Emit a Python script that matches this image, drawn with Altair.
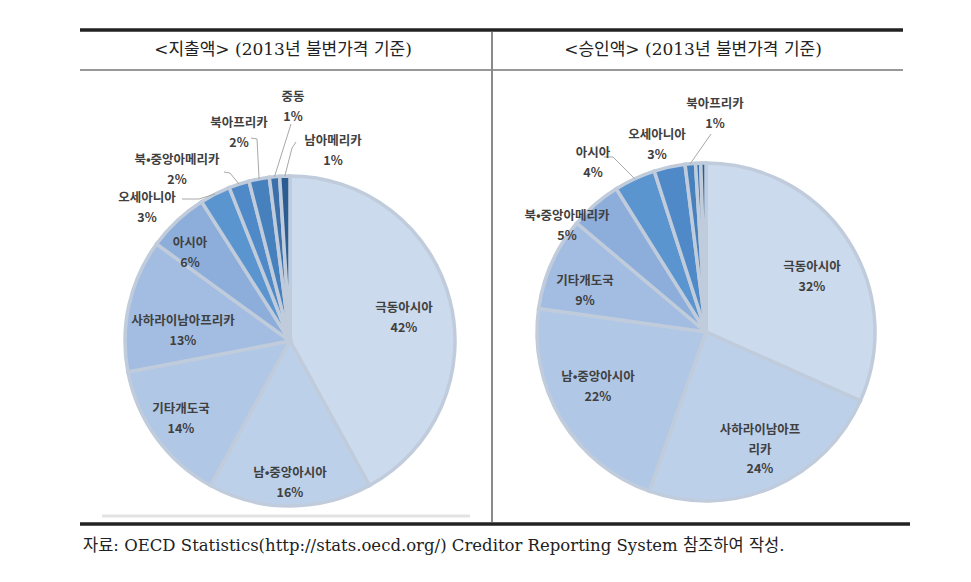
import math
import altair as alt
import pandas as pd

# ---------------- data ----------------
left_regions = ["극동아시아", "남•중앙아시아", "기타개도국", "사하라이남아프리카", "아시아",
                "오세아니아", "북•중앙아메리카", "북아프리카", "중동", "남아메리카"]
left_values = [42, 16, 14, 13, 6, 3, 2, 2, 1, 1]

right_regions = ["극동아시아", "사하라이남아프리카", "남•중앙아시아", "기타개도국", "북•중앙아메리카",
                 "아시아", "오세아니아", "북아프리카", "중동", "남아메리카"]
right_values = [32, 24, 22, 9, 5, 4, 3, 1, 0.5, 0.5]
right_labelled = ["극동아시아", "사하라이남아프리카", "남•중앙아시아", "기타개도국", "북•중앙아메리카",
                  "아시아", "오세아니아", "북아프리카"]

titles = ["<지출액> (2013년 불변가격 기준)", "<승인액> (2013년 불변가격 기준)"]
source = "자료: OECD Statistics(http://stats.oecd.org/) Creditor Reporting System 참조하여 작성."

# ---------------- layout / style ----------------
W, H = 955, 560
palette = ["#cbdaed", "#bdd0ea", "#b0c7e6", "#a3bde2", "#8daedb",
           "#5b95d0", "#4f89c7", "#4680bd", "#3b70aa", "#2c5d92"]

L_CX, L_CY, L_R = 290, 341, 165
R_CX, R_CY, R_R = 706, 332, 169

left_label_pos = {
    "극동아시아": (404, 308), "남•중앙아시아": (290, 473), "기타개도국": (181, 409),
    "사하라이남아프리카": (183, 321), "아시아": (190, 243), "오세아니아": (147, 198),
    "북•중앙아메리카": (177, 160), "북아프리카": (239, 123), "중동": (293, 97),
    "남아메리카": (333, 141),
}
right_label_pos = {
    "극동아시아": (812, 267), "사하라이남아프리카": (760, 430), "남•중앙아시아": (598, 377),
    "기타개도국": (585, 281), "북•중앙아메리카": (567, 216), "아시아": (593, 153),
    "오세아니아": (657, 135), "북아프리카": (715, 104),
}
wrap = {("R", "사하라이남아프리카"): ["사하라이남아프", "리카"]}
LINE_STEP = 19.5

# leader start/elbow points (image px); end is the slice edge at its mid angle
left_leaders = {
    "중동": [(291, 124)], "남아메리카": [(296, 142), (292, 148)],
    "북아프리카": [(251, 138), (257, 139)], "북•중앙아메리카": [(224, 172), (230, 173)],
    "오세아니아": [(182, 199), (199, 199)],
}
right_leaders = {"북아프리카": [(711, 134)], "아시아": [(604, 157), (613, 157)]}

xs = alt.Scale(domain=[8, 8 + W], nice=False, zero=False)
ys = alt.Scale(domain=[8, 8 + H], nice=False, zero=False, reverse=True)


def pie_df(regions, values):
    return pd.DataFrame({"region": regions, "value": values, "idx": list(range(len(regions)))})


def mid_edge(regions, values, name, cx, cy, r):
    total = sum(values)
    i = regions.index(name)
    before = sum(values[:i])
    frac = (before + values[i] / 2) / total
    a = frac * 2 * math.pi
    return (cx + r * math.sin(a), cy - r * math.cos(a))


def pie_layer(df, cx, cy, r):
    return alt.Chart(df).mark_arc(radius=r, stroke="#c0ccdb", strokeWidth=3.5).encode(
        theta=alt.Theta("value:Q", stack=True),
        order=alt.Order("idx:Q"),
        color=alt.Color("idx:O", scale=alt.Scale(domain=list(range(10)), range=palette), legend=None),
        x=alt.value(cx - 8),
        y=alt.value(cy - 8),
    )


# labels
lab_rows = []
for side, regions, values, pos, labelled in [
    ("L", left_regions, left_values, left_label_pos, left_regions),
    ("R", right_regions, right_values, right_label_pos, right_labelled),
]:
    for name in labelled:
        v = values[regions.index(name)]
        lines = wrap.get((side, name), [name]) + [f"{v:g}%"]
        x0, y0 = pos[name]
        for k, t in enumerate(lines):
            lab_rows.append({"x": x0, "y": y0 + k * LINE_STEP, "t": t})
lab_df = pd.DataFrame(lab_rows)

# leaders
lead_rows = []
for side, regions, values, leaders, cx, cy, r in [
    ("L", left_regions, left_values, left_leaders, L_CX, L_CY, L_R),
    ("R", right_regions, right_values, right_leaders, R_CX, R_CY, R_R),
]:
    for name, pts in leaders.items():
        path = list(pts) + [mid_edge(regions, values, name, cx, cy, r)]
        for s, (px, py) in enumerate(path):
            lead_rows.append({"id": f"{side}-{name}", "seq": s, "x": px, "y": py})
lead_df = pd.DataFrame(lead_rows)

enc_xy = dict(x=alt.X("x:Q", scale=xs, axis=None), y=alt.Y("y:Q", scale=ys, axis=None))


def rules(rows, color, width):
    return alt.Chart(pd.DataFrame(rows)).mark_rule(color=color, strokeWidth=width).encode(
        x=alt.X("x:Q", scale=xs, axis=None), x2="x2:Q",
        y=alt.Y("y:Q", scale=ys, axis=None), y2="y2:Q",
    )


frame_thick = rules([{"x": 80, "x2": 903, "y": 30, "y2": 30},
                     {"x": 80, "x2": 910, "y": 524, "y2": 524}], "#222222", 3.5)
frame_thin = rules([{"x": 80, "x2": 903, "y": 70, "y2": 70}], "#333333", 1.2)
divider = rules([{"x": 492, "x2": 492, "y": 32, "y2": 522}], "#8a8a8a", 2)
faint = rules([{"x": 102, "x2": 470, "y": 516, "y2": 516}], "#e3e3e3", 3)

title_df = pd.DataFrame({"x": [283, 693], "y": [50, 50], "t": titles})
title_layer = alt.Chart(title_df).mark_text(
    font="DejaVu Serif, Noto Sans CJK KR", fontSize=17, color="#222222", baseline="middle"
).encode(text="t:N", **enc_xy)

src_df = pd.DataFrame({"x": [83], "y": [546], "t": [source]})
src_layer = alt.Chart(src_df).mark_text(
    font="DejaVu Serif, Noto Sans CJK KR", fontSize=16.5, color="#222222", align="left", baseline="middle"
).encode(text="t:N", **enc_xy)

leader_layer = alt.Chart(lead_df).mark_line(color="#a8a8a8", strokeWidth=1).encode(
    detail="id:N", order="seq:Q", **enc_xy
)

label_layer = alt.Chart(lab_df).mark_text(
    font="Noto Sans CJK KR", fontWeight="bold", fontSize=12.5, color="#404040", baseline="middle"
).encode(text="t:N", **enc_xy)

chart = alt.layer(
    faint, frame_thin, divider, frame_thick,
    pie_layer(pie_df(left_regions, left_values), L_CX, L_CY, L_R),
    pie_layer(pie_df(right_regions, right_values), R_CX, R_CY, R_R),
    leader_layer, label_layer, title_layer, src_layer,
).resolve_scale(theta="independent").properties(
    width=W, height=H, padding=0, autosize=alt.AutoSizeParams(type="none"),
    background="white",
).configure_view(stroke=None)

chart.save("out.html", embed_options={"renderer": "svg", "actions": False})
